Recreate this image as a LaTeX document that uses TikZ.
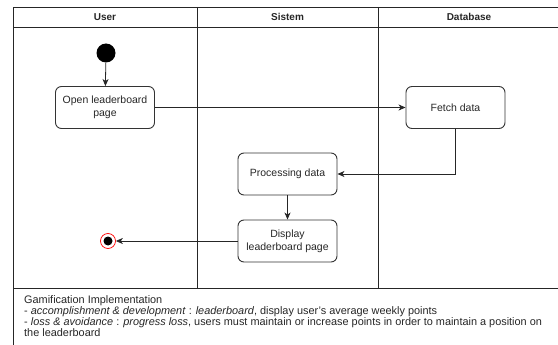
\documentclass[tikz,border=0pt]{standalone}
\usepackage{fontspec}
\setmainfont{Liberation Sans}
\usetikzlibrary{arrows.meta}
\tikzset{
  lane/.style={draw=black!85, line width=0.8pt},
  act/.style={draw=black!80, line width=0.9pt, rounded corners=6pt,
    minimum width=99pt, minimum height=42pt, align=center, inner sep=2pt,
    font=\fontsize{10.5}{13}\selectfont, text=black!85},
  hdr/.style={font=\bfseries\fontsize{10}{12}\selectfont, text=black!85},
  flow/.style={draw=black!85, line width=0.8pt,
    -{Stealth[length=7pt,width=6pt,inset=2pt]}},
}
\begin{document}
\begin{tikzpicture}[x=1pt,y=-1pt]
\useasboundingbox (0,0) rectangle (558,345);
% swimlane frame
\draw[lane] (13,345) -- (13,7) -- (560,7);
\draw[lane] (13,27) -- (560,27);
\draw[lane] (197,7) -- (197,288);
\draw[lane] (378,7) -- (378,288);
\draw[lane] (13,288) -- (560,288);
% lane headers
\node[hdr] (hUser) at (105,17) {User};
\node[hdr] (hSistem) at (287.5,17) {Sistem};
\node[hdr] (hDb) at (469,17) {Database};
% activities
\node[circle, fill=black, minimum size=19pt, inner sep=0pt] (start) at (106,53) {};
\node[act] (open) at (105,107.5) {Open leaderboard\\page};
\node[act] (fetch) at (455.5,107.5) {Fetch data};
\node[act] (proc) at (287.5,174) {Processing data};
\node[act] (disp) at (287.5,241) {Display\\leaderboard page};
\node[circle, draw=red, fill=white, line width=0.7pt, minimum size=15pt, inner sep=0pt] (end) at (108,241) {};
\node[circle, fill=black, minimum size=9pt, inner sep=0pt] (endDot) at (end) {};
% flows
\draw[flow] (start) -- (open);
\draw[flow] (open) -- (fetch);
\draw[flow] (fetch.south) |- (proc.east);
\draw[flow] (proc) -- (disp);
\draw[flow] (disp) -- (end);
% note
\node[anchor=north west, align=left, inner sep=0pt, text=black!85,
  font=\fontsize{10.9}{11}\selectfont] (note) at (24,295)
  {Gamification Implementation\\
   - \textit{accomplishment \& development} : \textit{leaderboard}, display user's average weekly points\\
   - \textit{loss \& avoidance} : \textit{progress loss}, users must maintain or increase points in order to maintain a position on\\
   the leaderboard};
\end{tikzpicture}
\end{document}
